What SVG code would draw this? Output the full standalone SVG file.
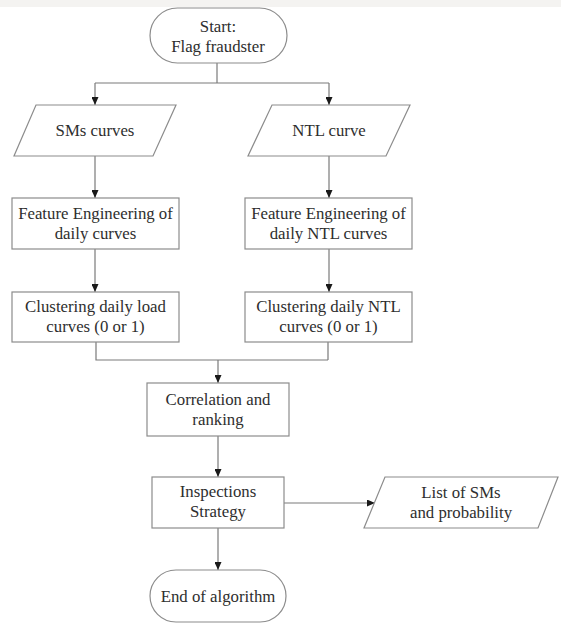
<svg xmlns="http://www.w3.org/2000/svg" width="561" height="623" viewBox="0 0 561 623">
<defs>
<marker id="arr" markerWidth="8" markerHeight="7" refX="8" refY="3.5" orient="auto" markerUnits="userSpaceOnUse">
<path d="M0,0 L8,3.5 L0,7 z" fill="#1a1a1a"/>
</marker>
<style>
.shape{fill:#ffffff;stroke:#8c8c8c;stroke-width:1.2}
.line{fill:none;stroke:#7a7a7a;stroke-width:1.2}
.t{font-family:"Liberation Serif","Times New Roman",serif;font-size:16.8px;fill:#2e2e2e;text-anchor:middle}
</style>
</defs>
<rect x="0" y="0" width="561" height="623" fill="#ffffff"/>
<rect x="0" y="0" width="561" height="7" fill="#f4f3f1"/>
<g id="connectors">
<path class="line" d="M217,63 V83"/>
<path class="line" d="M95,83 H329"/>
<path class="line" d="M95,83 V105" marker-end="url(#arr)"/>
<path class="line" d="M329,83 V105" marker-end="url(#arr)"/>
<path class="line" d="M95,156 V198" marker-end="url(#arr)"/>
<path class="line" d="M329,156 V198" marker-end="url(#arr)"/>
<path class="line" d="M95,249 V292" marker-end="url(#arr)"/>
<path class="line" d="M329,249 V292" marker-end="url(#arr)"/>
<path class="line" d="M96,342 V360 H328 M328,342 V360"/>
<path class="line" d="M218,360 V383" marker-end="url(#arr)"/>
<path class="line" d="M218,436 V477" marker-end="url(#arr)"/>
<path class="line" d="M284,503 H375" marker-end="url(#arr)"/>
<path class="line" d="M218,528 V570" marker-end="url(#arr)"/>
</g>
<g id="start">
<rect class="shape" x="150" y="8" width="137" height="55" rx="27.5" ry="27.5"/>
<text class="t" x="218" y="32">Start:</text>
<text class="t" x="218" y="52">Flag fraudster</text>
</g>
<g id="sms-curves">
<polygon class="shape" points="36,105 176,105 153,156 14,156"/>
<text class="t" x="95" y="136">SMs curves</text>
</g>
<g id="ntl-curve">
<polygon class="shape" points="272,105 410,105 386,156 248,156"/>
<text class="t" x="329" y="136">NTL curve</text>
</g>
<g id="feature-sms">
<rect class="shape" x="12" y="198" width="167" height="51"/>
<text class="t" x="95.5" y="219">Feature Engineering of</text>
<text class="t" x="95.5" y="239">daily curves</text>
</g>
<g id="feature-ntl">
<rect class="shape" x="245" y="198" width="167" height="51"/>
<text class="t" x="328.5" y="219">Feature Engineering of</text>
<text class="t" x="328.5" y="239">daily NTL curves</text>
</g>
<g id="cluster-sms">
<rect class="shape" x="12" y="292" width="167" height="50"/>
<text class="t" x="95.5" y="312">Clustering daily load</text>
<text class="t" x="95.5" y="332">curves (0 or 1)</text>
</g>
<g id="cluster-ntl">
<rect class="shape" x="245" y="292" width="167" height="50"/>
<text class="t" x="328.5" y="312">Clustering daily NTL</text>
<text class="t" x="328.5" y="332">curves (0 or 1)</text>
</g>
<g id="correlation">
<rect class="shape" x="147" y="383" width="142" height="53"/>
<text class="t" x="218" y="405">Correlation and</text>
<text class="t" x="218" y="425">ranking</text>
</g>
<g id="inspections">
<rect class="shape" x="152" y="477" width="132" height="51"/>
<text class="t" x="218" y="497">Inspections</text>
<text class="t" x="218" y="517">Strategy</text>
</g>
<g id="list">
<polygon class="shape" points="385,477 558,477 538,528 364,528"/>
<text class="t" x="461" y="498">List of SMs</text>
<text class="t" x="461" y="518">and probability</text>
</g>
<g id="end">
<rect class="shape" x="150" y="570" width="136" height="52" rx="26" ry="26"/>
<text class="t" x="218" y="602">End of algorithm</text>
</g>
</svg>
